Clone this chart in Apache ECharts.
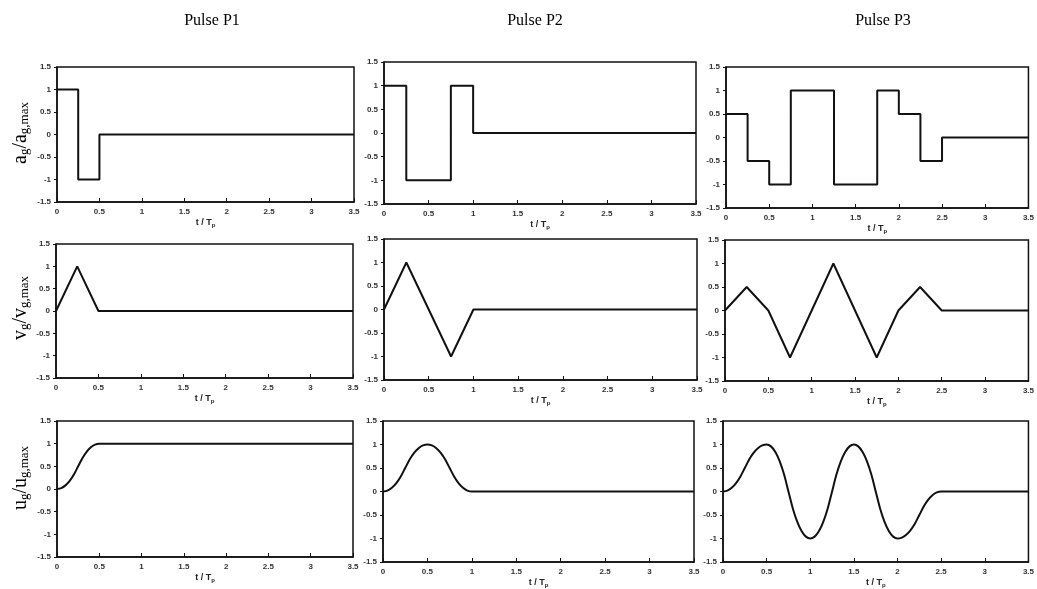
<!DOCTYPE html>
<html>
<head>
<meta charset="utf-8">
<script src="https://cdn.jsdelivr.net/npm/echarts@6/dist/echarts.min.js"></script>
<style>
html, body { margin: 0; padding: 0; background: #fff; }
#chart { width: 1037px; height: 589px; }
</style>
</head>
<body>
<div id="chart"></div>
<script>
// pulse titles
var pulseNames = ['Pulse P1', 'Pulse P2', 'Pulse P3'];

// acceleration (step, value holds until next t)
var accT1 = [0, 0.25, 0.5, 3.5];
var accY1 = [1, -1, 0, 0];
var accT2 = [0, 0.25, 0.75, 1, 3.5];
var accY2 = [1, -1, 1, 0, 0];
var accT3 = [0, 0.25, 0.5, 0.75, 1.25, 1.75, 2, 2.25, 2.5, 3.5];
var accY3 = [0.5, -0.5, -1, 1, -1, 1, 0.5, -0.5, 0, 0];

// velocity (corner points)
var velT1 = [0, 0.25, 0.5, 3.5];
var velY1 = [0, 1, 0, 0];
var velT2 = [0, 0.25, 0.75, 1, 3.5];
var velY2 = [0, 1, -1, 0, 0];
var velT3 = [0, 0.25, 0.5, 0.75, 1.25, 1.75, 2, 2.25, 2.5, 3.5];
var velY3 = [0, 0.5, 0, -1, 1, -1, 0, 0.5, 0, 0];

// displacement
var dispT1 = [0, 0.05, 0.1, 0.15, 0.2, 0.25, 0.3, 0.35, 0.4, 0.45, 0.5, 3.5];
var dispY1 = [0, 0.02, 0.08, 0.18, 0.32, 0.5, 0.68, 0.82, 0.92, 0.98, 1, 1];
var dispT2 = [0, 0.05, 0.1, 0.15, 0.2, 0.25, 0.3, 0.35, 0.4, 0.45, 0.5,
  0.55, 0.6, 0.65, 0.7, 0.75, 0.8, 0.85, 0.9, 0.95, 1, 3.5];
var dispY2 = [0, 0.02, 0.08, 0.18, 0.32, 0.5, 0.68, 0.82, 0.92, 0.98, 1,
  0.98, 0.92, 0.82, 0.68, 0.5, 0.32, 0.18, 0.08, 0.02, 0, 0];
var dispT3 = [0, 0.05, 0.1, 0.15, 0.2, 0.25, 0.3, 0.35, 0.4, 0.45, 0.5,
  0.55, 0.6, 0.65, 0.7, 0.75, 0.8, 0.85, 0.9, 0.95, 1,
  1.05, 1.1, 1.15, 1.2, 1.25, 1.3, 1.35, 1.4, 1.45, 1.5,
  1.55, 1.6, 1.65, 1.7, 1.75, 1.8, 1.85, 1.9, 1.95, 2,
  2.05, 2.1, 2.15, 2.2, 2.25, 2.3, 2.35, 2.4, 2.45, 2.5, 3.5];
var dispY3 = [0, 0.02, 0.08, 0.18, 0.32, 0.5, 0.68, 0.82, 0.92, 0.98, 1,
  0.96, 0.84, 0.64, 0.36, 0, -0.36, -0.64, -0.84, -0.96, -1,
  -0.96, -0.84, -0.64, -0.36, 0, 0.36, 0.64, 0.84, 0.96, 1,
  0.96, 0.84, 0.64, 0.36, 0, -0.36, -0.64, -0.84, -0.96, -1,
  -0.98, -0.92, -0.82, -0.68, -0.5, -0.32, -0.18, -0.08, -0.02, 0, 0];

function zip(t, y) {
  return t.map(function (v, i) { return [v, y[i]]; });
}

// frames of the nine panels [left, top, width, height]
var boxes = [
  [57, 67, 297, 135], [384, 62, 312, 142], [726, 67, 309, 141],
  [56, 244, 297, 134], [384, 239, 313, 141], [725, 240, 310, 141],
  [57, 421, 296, 136], [383, 421, 311, 142], [723, 421, 310, 141]
];

var panels = [
  { d: zip(accT1, accY1), step: 'end' }, { d: zip(accT2, accY2), step: 'end' }, { d: zip(accT3, accY3), step: 'end' },
  { d: zip(velT1, velY1) }, { d: zip(velT2, velY2) }, { d: zip(velT3, velY3) },
  { d: zip(dispT1, dispY1), smooth: true }, { d: zip(dispT2, dispY2), smooth: true }, { d: zip(dispT3, dispY3), smooth: true }
];

var tickFont = { fontSize: 8, color: '#333', fontWeight: 'bold', fontFamily: 'Liberation Sans' };

var grids = [], xAxes = [], yAxes = [], series = [];
boxes.forEach(function (b, i) {
  grids.push({
    left: b[0], top: b[1], width: b[2], height: b[3],
    show: true, borderColor: '#111', borderWidth: 1.5, backgroundColor: 'transparent'
  });
  xAxes.push({
    type: 'value', gridIndex: i, min: 0, max: 3.5, interval: 0.5,
    axisLine: { onZero: false, lineStyle: { color: '#111', width: 1.5 } },
    axisTick: { show: true, inside: true, length: 4, lineStyle: { color: '#111' } },
    splitLine: { show: false },
    axisLabel: Object.assign({ margin: 6 }, tickFont),
    name: '{b|t / T}{s|p}', nameLocation: 'middle', nameGap: 15,
    nameTextStyle: {
      rich: {
        b: { fontSize: 9, fontWeight: 'bold', color: '#222', fontFamily: 'Liberation Sans' },
        s: { fontSize: 6, fontWeight: 'bold', color: '#222', fontFamily: 'Liberation Sans', padding: [5, 0, 0, 0] }
      }
    }
  });
  yAxes.push({
    type: 'value', gridIndex: i, min: -1.5, max: 1.5, interval: 0.5,
    axisLine: { show: true, onZero: false, lineStyle: { color: '#111', width: 1.5 } },
    axisTick: { show: true, length: 3, lineStyle: { color: '#111' } },
    splitLine: { show: false },
    axisLabel: Object.assign({ margin: 6 }, tickFont)
  });
  series.push({
    type: 'line', xAxisIndex: i, yAxisIndex: i,
    data: panels[i].d, step: panels[i].step || false, smooth: panels[i].smooth ? 0.3 : false,
    showSymbol: false, lineStyle: { color: '#111', width: 2 }
  });
});

var titleX = [207, 530, 878];
var titles = pulseNames.map(function (n, i) {
  return {
    text: n, left: titleX[i], top: 8, textAlign: 'center',
    textStyle: { fontFamily: 'Liberation Serif', fontSize: 16, fontWeight: 'normal', color: '#000' }
  };
});

var serifRich = {
  m: { fontFamily: 'Liberation Serif', fontSize: 20, color: '#000' },
  s: { fontFamily: 'Liberation Serif', fontSize: 13, color: '#000', padding: [8, 0, 0, 0] }
};
var yLabels = [
  ['a', 133], ['v', 308], ['u', 478]
];
var graphics = yLabels.map(function (l) {
  return {
    type: 'text', x: 21, y: l[1], rotation: Math.PI / 2,
    style: {
      text: '{m|' + l[0] + '}{s|g}{m|/' + l[0] + '}{s|g,max}',
      rich: serifRich, align: 'center', verticalAlign: 'middle'
    }
  };
});

var chart = echarts.init(document.getElementById('chart'), null, { renderer: 'canvas' });
chart.setOption({
  animation: false,
  backgroundColor: '#fff',
  title: titles,
  grid: grids,
  xAxis: xAxes,
  yAxis: yAxes,
  series: series,
  graphic: graphics
});
</script>
</body>
</html>
